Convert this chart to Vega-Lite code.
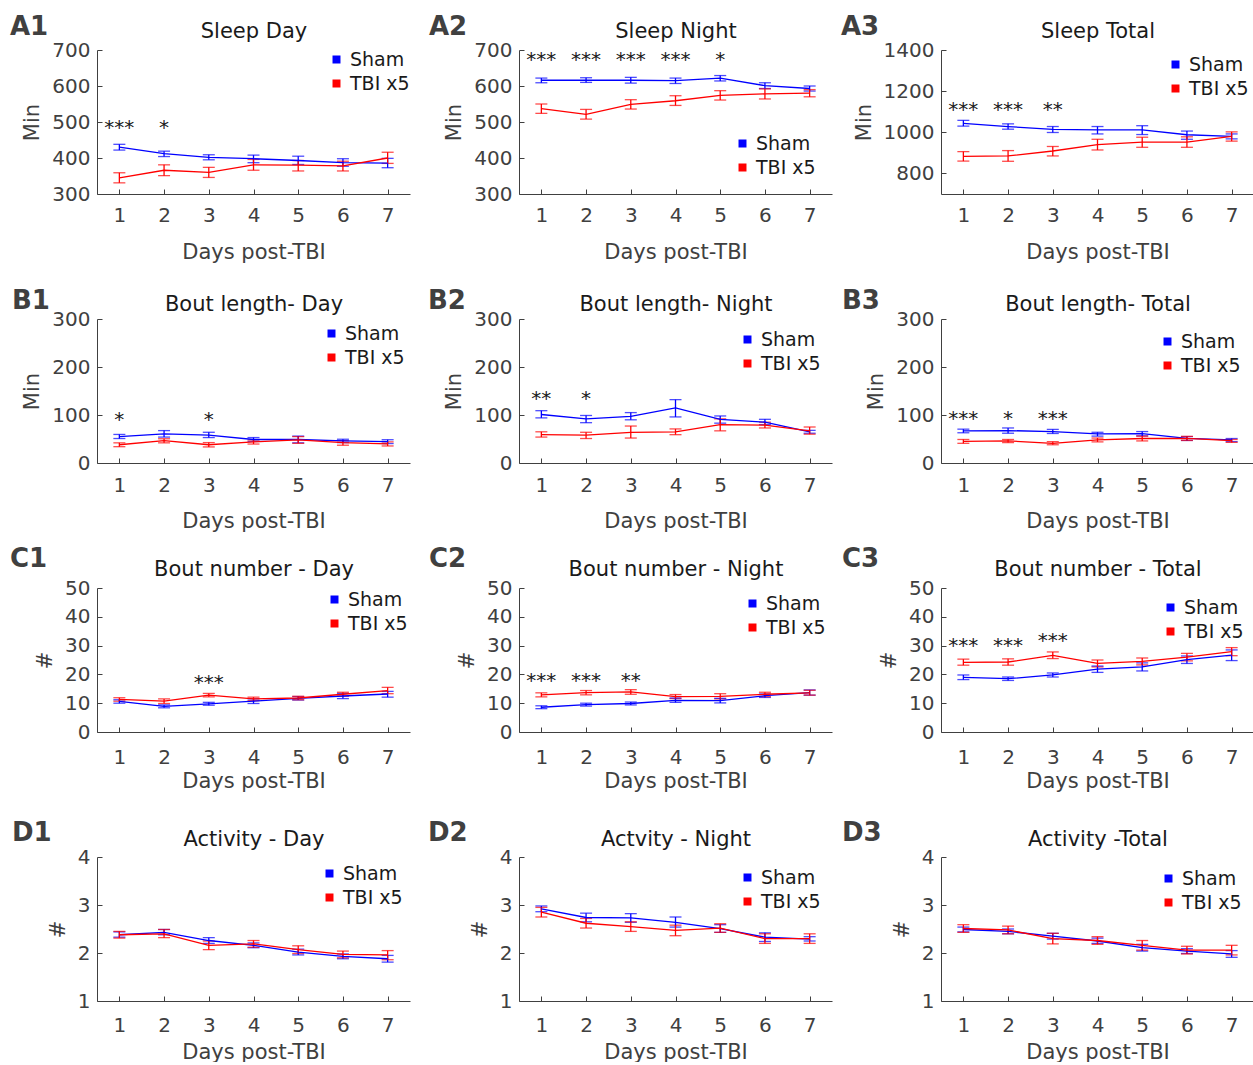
{
"$schema": "https://vega.github.io/schema/vega-lite/v6.json",
"padding": {"left": 10, "top": 14, "right": 0, "bottom": 0},
"datasets": {
"main": [
{"p":"A1","g":"Sham","d":1,"m":430,"lo":422,"hi":438},{"p":"A1","g":"Sham","d":2,"m":412,"lo":404,"hi":419},{"p":"A1","g":"Sham","d":3,"m":402,"lo":395,"hi":409},{"p":"A1","g":"Sham","d":4,"m":398,"lo":387,"hi":408},{"p":"A1","g":"Sham","d":5,"m":393,"lo":382,"hi":405},{"p":"A1","g":"Sham","d":6,"m":387,"lo":377,"hi":398},{"p":"A1","g":"Sham","d":7,"m":386,"lo":373,"hi":399},
{"p":"A1","g":"TBI x5","d":1,"m":345,"lo":331,"hi":359},{"p":"A1","g":"TBI x5","d":2,"m":366,"lo":351,"hi":381},{"p":"A1","g":"TBI x5","d":3,"m":360,"lo":346,"hi":374},{"p":"A1","g":"TBI x5","d":4,"m":381,"lo":366,"hi":396},{"p":"A1","g":"TBI x5","d":5,"m":380,"lo":364,"hi":393},{"p":"A1","g":"TBI x5","d":6,"m":378,"lo":364,"hi":391},{"p":"A1","g":"TBI x5","d":7,"m":400,"lo":385,"hi":416},
{"p":"A2","g":"Sham","d":1,"m":616,"lo":609,"hi":622},{"p":"A2","g":"Sham","d":2,"m":616,"lo":610,"hi":623},{"p":"A2","g":"Sham","d":3,"m":616,"lo":608,"hi":624},{"p":"A2","g":"Sham","d":4,"m":615,"lo":607,"hi":622},{"p":"A2","g":"Sham","d":5,"m":622,"lo":614,"hi":629},{"p":"A2","g":"Sham","d":6,"m":601,"lo":593,"hi":609},{"p":"A2","g":"Sham","d":7,"m":593,"lo":586,"hi":600},
{"p":"A2","g":"TBI x5","d":1,"m":537,"lo":524,"hi":550},{"p":"A2","g":"TBI x5","d":2,"m":521,"lo":508,"hi":535},{"p":"A2","g":"TBI x5","d":3,"m":549,"lo":536,"hi":562},{"p":"A2","g":"TBI x5","d":4,"m":559,"lo":546,"hi":573},{"p":"A2","g":"TBI x5","d":5,"m":574,"lo":561,"hi":587},{"p":"A2","g":"TBI x5","d":6,"m":578,"lo":564,"hi":592},{"p":"A2","g":"TBI x5","d":7,"m":580,"lo":570,"hi":590},
{"p":"A3","g":"Sham","d":1,"m":1043,"lo":1030,"hi":1058},{"p":"A3","g":"Sham","d":2,"m":1028,"lo":1015,"hi":1041},{"p":"A3","g":"Sham","d":3,"m":1014,"lo":999,"hi":1028},{"p":"A3","g":"Sham","d":4,"m":1012,"lo":992,"hi":1028},{"p":"A3","g":"Sham","d":5,"m":1012,"lo":989,"hi":1032},{"p":"A3","g":"Sham","d":6,"m":988,"lo":966,"hi":1006},{"p":"A3","g":"Sham","d":7,"m":980,"lo":968,"hi":992},
{"p":"A3","g":"TBI x5","d":1,"m":883,"lo":860,"hi":906},{"p":"A3","g":"TBI x5","d":2,"m":885,"lo":859,"hi":911},{"p":"A3","g":"TBI x5","d":3,"m":909,"lo":885,"hi":931},{"p":"A3","g":"TBI x5","d":4,"m":940,"lo":914,"hi":966},{"p":"A3","g":"TBI x5","d":5,"m":952,"lo":927,"hi":976},{"p":"A3","g":"TBI x5","d":6,"m":952,"lo":927,"hi":978},{"p":"A3","g":"TBI x5","d":7,"m":980,"lo":957,"hi":1002},
{"p":"B1","g":"Sham","d":1,"m":55,"lo":51,"hi":59.5},{"p":"B1","g":"Sham","d":2,"m":60.5,"lo":54,"hi":67.5},{"p":"B1","g":"Sham","d":3,"m":58,"lo":53,"hi":64},{"p":"B1","g":"Sham","d":4,"m":49,"lo":45,"hi":53},{"p":"B1","g":"Sham","d":5,"m":49,"lo":42,"hi":56},{"p":"B1","g":"Sham","d":6,"m":46,"lo":42.5,"hi":49.5},{"p":"B1","g":"Sham","d":7,"m":44.5,"lo":40.5,"hi":48.5},
{"p":"B1","g":"TBI x5","d":1,"m":38,"lo":34,"hi":42},{"p":"B1","g":"TBI x5","d":2,"m":46.5,"lo":42,"hi":50.5},{"p":"B1","g":"TBI x5","d":3,"m":38,"lo":33.5,"hi":42.5},{"p":"B1","g":"TBI x5","d":4,"m":44,"lo":39.5,"hi":48},{"p":"B1","g":"TBI x5","d":5,"m":48,"lo":41,"hi":55},{"p":"B1","g":"TBI x5","d":6,"m":42.5,"lo":37,"hi":46.5},{"p":"B1","g":"TBI x5","d":7,"m":40,"lo":35.5,"hi":44},
{"p":"B2","g":"Sham","d":1,"m":101,"lo":94,"hi":109},{"p":"B2","g":"Sham","d":2,"m":92,"lo":84,"hi":99},{"p":"B2","g":"Sham","d":3,"m":97,"lo":90,"hi":105},{"p":"B2","g":"Sham","d":4,"m":115,"lo":96,"hi":132},{"p":"B2","g":"Sham","d":5,"m":91,"lo":83,"hi":98},{"p":"B2","g":"Sham","d":6,"m":85,"lo":80,"hi":91},{"p":"B2","g":"Sham","d":7,"m":65,"lo":62,"hi":68},
{"p":"B2","g":"TBI x5","d":1,"m":59,"lo":54,"hi":65},{"p":"B2","g":"TBI x5","d":2,"m":58,"lo":51,"hi":64},{"p":"B2","g":"TBI x5","d":3,"m":64,"lo":52,"hi":77},{"p":"B2","g":"TBI x5","d":4,"m":65,"lo":59,"hi":71},{"p":"B2","g":"TBI x5","d":5,"m":80,"lo":67,"hi":92},{"p":"B2","g":"TBI x5","d":6,"m":79,"lo":73,"hi":85},{"p":"B2","g":"TBI x5","d":7,"m":67,"lo":60,"hi":75},
{"p":"B3","g":"Sham","d":1,"m":67,"lo":63,"hi":70.5},{"p":"B3","g":"Sham","d":2,"m":67.5,"lo":62,"hi":73},{"p":"B3","g":"Sham","d":3,"m":65.5,"lo":61.5,"hi":70},{"p":"B3","g":"Sham","d":4,"m":60.5,"lo":56,"hi":64},{"p":"B3","g":"Sham","d":5,"m":61,"lo":56.5,"hi":65.5},{"p":"B3","g":"Sham","d":6,"m":51.5,"lo":47,"hi":55},{"p":"B3","g":"Sham","d":7,"m":48,"lo":44.5,"hi":51},
{"p":"B3","g":"TBI x5","d":1,"m":45,"lo":41,"hi":49},{"p":"B3","g":"TBI x5","d":2,"m":46,"lo":42.5,"hi":49},{"p":"B3","g":"TBI x5","d":3,"m":41,"lo":38,"hi":44.5},{"p":"B3","g":"TBI x5","d":4,"m":48,"lo":44,"hi":52},{"p":"B3","g":"TBI x5","d":5,"m":51,"lo":46,"hi":56},{"p":"B3","g":"TBI x5","d":6,"m":51.5,"lo":47,"hi":55.5},{"p":"B3","g":"TBI x5","d":7,"m":46.5,"lo":43,"hi":49},
{"p":"C1","g":"Sham","d":1,"m":10.6,"lo":10.0,"hi":11.2},{"p":"C1","g":"Sham","d":2,"m":8.9,"lo":8.4,"hi":9.4},{"p":"C1","g":"Sham","d":3,"m":9.8,"lo":9.3,"hi":10.3},{"p":"C1","g":"Sham","d":4,"m":10.7,"lo":9.9,"hi":11.5},{"p":"C1","g":"Sham","d":5,"m":11.7,"lo":11.1,"hi":12.3},{"p":"C1","g":"Sham","d":6,"m":12.5,"lo":11.6,"hi":13.4},{"p":"C1","g":"Sham","d":7,"m":13.2,"lo":12.1,"hi":14.1},
{"p":"C1","g":"TBI x5","d":1,"m":11.3,"lo":10.7,"hi":11.9},{"p":"C1","g":"TBI x5","d":2,"m":10.7,"lo":9.9,"hi":11.5},{"p":"C1","g":"TBI x5","d":3,"m":12.8,"lo":12.2,"hi":13.4},{"p":"C1","g":"TBI x5","d":4,"m":11.5,"lo":10.9,"hi":12.1},{"p":"C1","g":"TBI x5","d":5,"m":11.8,"lo":11.2,"hi":12.4},{"p":"C1","g":"TBI x5","d":6,"m":13.1,"lo":12.4,"hi":13.8},{"p":"C1","g":"TBI x5","d":7,"m":14.4,"lo":13.3,"hi":15.5},
{"p":"C2","g":"Sham","d":1,"m":8.6,"lo":8.1,"hi":9.1},{"p":"C2","g":"Sham","d":2,"m":9.5,"lo":9.0,"hi":10.0},{"p":"C2","g":"Sham","d":3,"m":9.9,"lo":9.4,"hi":10.4},{"p":"C2","g":"Sham","d":4,"m":11.0,"lo":10.3,"hi":11.8},{"p":"C2","g":"Sham","d":5,"m":10.9,"lo":10.1,"hi":11.7},{"p":"C2","g":"Sham","d":6,"m":12.6,"lo":12.0,"hi":13.2},{"p":"C2","g":"Sham","d":7,"m":13.7,"lo":12.8,"hi":14.6},
{"p":"C2","g":"TBI x5","d":1,"m":12.9,"lo":12.2,"hi":13.6},{"p":"C2","g":"TBI x5","d":2,"m":13.7,"lo":12.9,"hi":14.4},{"p":"C2","g":"TBI x5","d":3,"m":13.9,"lo":13.1,"hi":14.7},{"p":"C2","g":"TBI x5","d":4,"m":12.3,"lo":11.6,"hi":13.0},{"p":"C2","g":"TBI x5","d":5,"m":12.4,"lo":11.5,"hi":13.3},{"p":"C2","g":"TBI x5","d":6,"m":13.1,"lo":12.3,"hi":13.8},{"p":"C2","g":"TBI x5","d":7,"m":13.6,"lo":12.8,"hi":14.5},
{"p":"C3","g":"Sham","d":1,"m":19.0,"lo":18.2,"hi":19.8},{"p":"C3","g":"Sham","d":2,"m":18.5,"lo":17.9,"hi":19.1},{"p":"C3","g":"Sham","d":3,"m":19.8,"lo":19.1,"hi":20.5},{"p":"C3","g":"Sham","d":4,"m":21.8,"lo":20.7,"hi":22.9},{"p":"C3","g":"Sham","d":5,"m":22.6,"lo":21.2,"hi":24.0},{"p":"C3","g":"Sham","d":6,"m":25.1,"lo":23.8,"hi":26.4},{"p":"C3","g":"Sham","d":7,"m":26.7,"lo":24.8,"hi":28.5},
{"p":"C3","g":"TBI x5","d":1,"m":24.2,"lo":23.2,"hi":25.3},{"p":"C3","g":"TBI x5","d":2,"m":24.3,"lo":23.2,"hi":25.4},{"p":"C3","g":"TBI x5","d":3,"m":26.6,"lo":25.5,"hi":27.8},{"p":"C3","g":"TBI x5","d":4,"m":23.8,"lo":22.6,"hi":25.0},{"p":"C3","g":"TBI x5","d":5,"m":24.5,"lo":23.3,"hi":25.7},{"p":"C3","g":"TBI x5","d":6,"m":26.0,"lo":24.7,"hi":27.3},{"p":"C3","g":"TBI x5","d":7,"m":27.9,"lo":26.5,"hi":29.3},
{"p":"D1","g":"Sham","d":1,"m":2.38,"lo":2.33,"hi":2.44},{"p":"D1","g":"Sham","d":2,"m":2.43,"lo":2.38,"hi":2.49},{"p":"D1","g":"Sham","d":3,"m":2.26,"lo":2.20,"hi":2.32},{"p":"D1","g":"Sham","d":4,"m":2.16,"lo":2.11,"hi":2.21},{"p":"D1","g":"Sham","d":5,"m":2.02,"lo":1.96,"hi":2.08},{"p":"D1","g":"Sham","d":6,"m":1.93,"lo":1.88,"hi":1.98},{"p":"D1","g":"Sham","d":7,"m":1.88,"lo":1.81,"hi":1.95},
{"p":"D1","g":"TBI x5","d":1,"m":2.38,"lo":2.31,"hi":2.45},{"p":"D1","g":"TBI x5","d":2,"m":2.40,"lo":2.32,"hi":2.49},{"p":"D1","g":"TBI x5","d":3,"m":2.16,"lo":2.07,"hi":2.25},{"p":"D1","g":"TBI x5","d":4,"m":2.19,"lo":2.12,"hi":2.26},{"p":"D1","g":"TBI x5","d":5,"m":2.07,"lo":1.99,"hi":2.15},{"p":"D1","g":"TBI x5","d":6,"m":1.97,"lo":1.90,"hi":2.04},{"p":"D1","g":"TBI x5","d":7,"m":1.96,"lo":1.86,"hi":2.05},
{"p":"D2","g":"Sham","d":1,"m":2.92,"lo":2.86,"hi":2.98},{"p":"D2","g":"Sham","d":2,"m":2.74,"lo":2.65,"hi":2.83},{"p":"D2","g":"Sham","d":3,"m":2.73,"lo":2.64,"hi":2.82},{"p":"D2","g":"Sham","d":4,"m":2.64,"lo":2.54,"hi":2.75},{"p":"D2","g":"Sham","d":5,"m":2.51,"lo":2.43,"hi":2.59},{"p":"D2","g":"Sham","d":6,"m":2.33,"lo":2.24,"hi":2.42},{"p":"D2","g":"Sham","d":7,"m":2.29,"lo":2.25,"hi":2.34},
{"p":"D2","g":"TBI x5","d":1,"m":2.85,"lo":2.75,"hi":2.95},{"p":"D2","g":"TBI x5","d":2,"m":2.62,"lo":2.52,"hi":2.72},{"p":"D2","g":"TBI x5","d":3,"m":2.55,"lo":2.45,"hi":2.65},{"p":"D2","g":"TBI x5","d":4,"m":2.47,"lo":2.36,"hi":2.58},{"p":"D2","g":"TBI x5","d":5,"m":2.52,"lo":2.43,"hi":2.61},{"p":"D2","g":"TBI x5","d":6,"m":2.30,"lo":2.20,"hi":2.40},{"p":"D2","g":"TBI x5","d":7,"m":2.30,"lo":2.20,"hi":2.40},
{"p":"D3","g":"Sham","d":1,"m":2.49,"lo":2.44,"hi":2.54},{"p":"D3","g":"Sham","d":2,"m":2.45,"lo":2.40,"hi":2.50},{"p":"D3","g":"Sham","d":3,"m":2.35,"lo":2.29,"hi":2.41},{"p":"D3","g":"Sham","d":4,"m":2.25,"lo":2.20,"hi":2.31},{"p":"D3","g":"Sham","d":5,"m":2.11,"lo":2.04,"hi":2.18},{"p":"D3","g":"Sham","d":6,"m":2.04,"lo":1.99,"hi":2.09},{"p":"D3","g":"Sham","d":7,"m":1.98,"lo":1.91,"hi":2.05},
{"p":"D3","g":"TBI x5","d":1,"m":2.51,"lo":2.43,"hi":2.59},{"p":"D3","g":"TBI x5","d":2,"m":2.48,"lo":2.40,"hi":2.56},{"p":"D3","g":"TBI x5","d":3,"m":2.30,"lo":2.19,"hi":2.41},{"p":"D3","g":"TBI x5","d":4,"m":2.26,"lo":2.18,"hi":2.34},{"p":"D3","g":"TBI x5","d":5,"m":2.16,"lo":2.06,"hi":2.26},{"p":"D3","g":"TBI x5","d":6,"m":2.06,"lo":1.98,"hi":2.14},{"p":"D3","g":"TBI x5","d":7,"m":2.06,"lo":1.96,"hi":2.16}
],
"stars": [
{"p":"A1","d":1,"s":"***","y":492},{"p":"A1","d":2,"s":"*","y":492},
{"p":"A2","d":1,"s":"***","y":681},{"p":"A2","d":2,"s":"***","y":681},{"p":"A2","d":3,"s":"***","y":681},{"p":"A2","d":4,"s":"***","y":681},{"p":"A2","d":5,"s":"*","y":681},
{"p":"A3","d":1,"s":"***","y":1124},{"p":"A3","d":2,"s":"***","y":1124},{"p":"A3","d":3,"s":"**","y":1124},
{"p":"B1","d":1,"s":"*","y":95},{"p":"B1","d":3,"s":"*","y":95},
{"p":"B2","d":1,"s":"**","y":140},{"p":"B2","d":2,"s":"*","y":140},
{"p":"B3","d":1,"s":"***","y":97},{"p":"B3","d":2,"s":"*","y":97},{"p":"B3","d":3,"s":"***","y":97},
{"p":"C1","d":3,"s":"***","y":18},
{"p":"C2","d":1,"s":"***","y":18.6},{"p":"C2","d":2,"s":"***","y":18.6},{"p":"C2","d":3,"s":"**","y":18.6},
{"p":"C3","d":1,"s":"***","y":30.9},{"p":"C3","d":2,"s":"***","y":30.9},{"p":"C3","d":3,"s":"***","y":32.8}
]
},
"columns": 3,
"spacing": {"row": 125, "column": 109},
"bounds": "flush",
"resolve": {"scale": {"color": "independent"}, "legend": {"color": "independent"}},
"concat": [
{"width":313,"height":144,"title":{"text":"A1","dx":-87,"offset":-20},"data":{"name":"main"},"transform":[{"filter":"datum.p=='A1'"}],"resolve":{"axis":{"x":"independent"}},
 "layer":[
  {"mark":{"type":"errorbar","ticks":true,"size":12,"thickness":1.3,"orient":"vertical"},"encoding":{"x":{"field":"d","type":"quantitative","scale":{"domain":[0.5,7.5],"nice":false,"zero":false},"axis":{"values":[1,2,3,4,5,6,7],"title":"Days post-TBI","labelPadding":16,"titlePadding":16.5}},"y":{"field":"lo","type":"quantitative","scale":{"domain":[300,700],"nice":false,"zero":false},"axis":{"values":[300,400,500,600,700],"title":"Min","format":"d"}},"y2":{"field":"hi"},"color":{"field":"g","type":"nominal","scale":{"domain":["Sham","TBI x5"],"range":["#0000ff","#ff0000"]}}}},
  {"mark":{"type":"line","strokeWidth":1.3},"encoding":{"x":{"field":"d","type":"quantitative","scale":{"domain":[0.5,7.5],"nice":false,"zero":false},"axis":null},"y":{"field":"m","type":"quantitative","scale":{"domain":[300,700],"nice":false,"zero":false},"axis":{"values":[300,400,500,600,700],"title":"Min","format":"d"}},"color":{"field":"g","type":"nominal","scale":{"domain":["Sham","TBI x5"],"range":["#0000ff","#ff0000"]},"legend":{"orient":"top-right","offset":0,"title":null}}}},
  {"mark":{"type":"square","size":0,"opacity":1,"filled":true},"encoding":{"x":{"field":"d","type":"quantitative","scale":{"domain":[0.5,7.5],"nice":false,"zero":false},"axis":{"orient":"top","title":"Sleep Day","titlePadding":9}},"y":{"field":"m","type":"quantitative","scale":{"domain":[300,700],"nice":false,"zero":false},"axis":{"values":[300,400,500,600,700],"title":"Min","format":"d"}}}},
  {"data":{"name":"stars"},"transform":[{"filter":"datum.p=='A1'"}],"mark":{"type":"text","fontSize":20,"dy":9,"baseline":"alphabetic","color":"#1a1a1a"},"encoding":{"x":{"field":"d","type":"quantitative","scale":{"domain":[0.5,7.5],"nice":false,"zero":false},"axis":null},"y":{"field":"y","type":"quantitative","scale":{"domain":[300,700],"nice":false,"zero":false},"axis":{"values":[300,400,500,600,700],"title":"Min","format":"d"}},"text":{"field":"s"}}}
 ]},
{"width":313,"height":144,"title":{"text":"A2","dx":-90,"offset":-20},"data":{"name":"main"},"transform":[{"filter":"datum.p=='A2'"}],"resolve":{"axis":{"x":"independent"}},
 "layer":[
  {"mark":{"type":"errorbar","ticks":true,"size":12,"thickness":1.3,"orient":"vertical"},"encoding":{"x":{"field":"d","type":"quantitative","scale":{"domain":[0.5,7.5],"nice":false,"zero":false},"axis":{"values":[1,2,3,4,5,6,7],"title":"Days post-TBI","labelPadding":16,"titlePadding":16.5}},"y":{"field":"lo","type":"quantitative","scale":{"domain":[300,700],"nice":false,"zero":false},"axis":{"values":[300,400,500,600,700],"title":"Min","format":"d"}},"y2":{"field":"hi"},"color":{"field":"g","type":"nominal","scale":{"domain":["Sham","TBI x5"],"range":["#0000ff","#ff0000"]}}}},
  {"mark":{"type":"line","strokeWidth":1.3},"encoding":{"x":{"field":"d","type":"quantitative","scale":{"domain":[0.5,7.5],"nice":false,"zero":false},"axis":null},"y":{"field":"m","type":"quantitative","scale":{"domain":[300,700],"nice":false,"zero":false},"axis":{"values":[300,400,500,600,700],"title":"Min","format":"d"}},"color":{"field":"g","type":"nominal","scale":{"domain":["Sham","TBI x5"],"range":["#0000ff","#ff0000"]},"legend":{"orient":"bottom-right","offset":16,"title":null}}}},
  {"mark":{"type":"square","size":0,"opacity":1,"filled":true},"encoding":{"x":{"field":"d","type":"quantitative","scale":{"domain":[0.5,7.5],"nice":false,"zero":false},"axis":{"orient":"top","title":"Sleep Night","titlePadding":9}},"y":{"field":"m","type":"quantitative","scale":{"domain":[300,700],"nice":false,"zero":false},"axis":{"values":[300,400,500,600,700],"title":"Min","format":"d"}}}},
  {"data":{"name":"stars"},"transform":[{"filter":"datum.p=='A2'"}],"mark":{"type":"text","fontSize":20,"dy":9,"baseline":"alphabetic","color":"#1a1a1a"},"encoding":{"x":{"field":"d","type":"quantitative","scale":{"domain":[0.5,7.5],"nice":false,"zero":false},"axis":null},"y":{"field":"y","type":"quantitative","scale":{"domain":[300,700],"nice":false,"zero":false},"axis":{"values":[300,400,500,600,700],"title":"Min","format":"d"}},"text":{"field":"s"}}}
 ]},
{"width":313,"height":144,"title":{"text":"A3","dx":-100,"offset":-20},"data":{"name":"main"},"transform":[{"filter":"datum.p=='A3'"}],"resolve":{"axis":{"x":"independent"}},
 "layer":[
  {"mark":{"type":"errorbar","ticks":true,"size":12,"thickness":1.3,"orient":"vertical"},"encoding":{"x":{"field":"d","type":"quantitative","scale":{"domain":[0.5,7.5],"nice":false,"zero":false},"axis":{"values":[1,2,3,4,5,6,7],"title":"Days post-TBI","labelPadding":16,"titlePadding":16.5}},"y":{"field":"lo","type":"quantitative","scale":{"domain":[700,1400],"nice":false,"zero":false},"axis":{"values":[800,1000,1200,1400],"title":"Min","format":"d"}},"y2":{"field":"hi"},"color":{"field":"g","type":"nominal","scale":{"domain":["Sham","TBI x5"],"range":["#0000ff","#ff0000"]}}}},
  {"mark":{"type":"line","strokeWidth":1.3},"encoding":{"x":{"field":"d","type":"quantitative","scale":{"domain":[0.5,7.5],"nice":false,"zero":false},"axis":null},"y":{"field":"m","type":"quantitative","scale":{"domain":[700,1400],"nice":false,"zero":false},"axis":{"values":[800,1000,1200,1400],"title":"Min","format":"d"}},"color":{"field":"g","type":"nominal","scale":{"domain":["Sham","TBI x5"],"range":["#0000ff","#ff0000"]},"legend":{"orient":"top-right","offset":5,"title":null}}}},
  {"mark":{"type":"square","size":0,"opacity":1,"filled":true},"encoding":{"x":{"field":"d","type":"quantitative","scale":{"domain":[0.5,7.5],"nice":false,"zero":false},"axis":{"orient":"top","title":"Sleep Total","titlePadding":9}},"y":{"field":"m","type":"quantitative","scale":{"domain":[700,1400],"nice":false,"zero":false},"axis":{"values":[800,1000,1200,1400],"title":"Min","format":"d"}}}},
  {"data":{"name":"stars"},"transform":[{"filter":"datum.p=='A3'"}],"mark":{"type":"text","fontSize":20,"dy":9,"baseline":"alphabetic","color":"#1a1a1a"},"encoding":{"x":{"field":"d","type":"quantitative","scale":{"domain":[0.5,7.5],"nice":false,"zero":false},"axis":null},"y":{"field":"y","type":"quantitative","scale":{"domain":[700,1400],"nice":false,"zero":false},"axis":{"values":[800,1000,1200,1400],"title":"Min","format":"d"}},"text":{"field":"s"}}}
 ]},
{"width":313,"height":144,"title":{"text":"B1","dx":-85,"offset":-21},"data":{"name":"main"},"transform":[{"filter":"datum.p=='B1'"}],"resolve":{"axis":{"x":"independent"}},
 "layer":[
  {"mark":{"type":"errorbar","ticks":true,"size":12,"thickness":1.3,"orient":"vertical"},"encoding":{"x":{"field":"d","type":"quantitative","scale":{"domain":[0.5,7.5],"nice":false,"zero":false},"axis":{"values":[1,2,3,4,5,6,7],"title":"Days post-TBI","labelPadding":17,"titlePadding":15}},"y":{"field":"lo","type":"quantitative","scale":{"domain":[0,300],"nice":false,"zero":false},"axis":{"values":[0,100,200,300],"title":"Min","format":"d"}},"y2":{"field":"hi"},"color":{"field":"g","type":"nominal","scale":{"domain":["Sham","TBI x5"],"range":["#0000ff","#ff0000"]}}}},
  {"mark":{"type":"line","strokeWidth":1.3},"encoding":{"x":{"field":"d","type":"quantitative","scale":{"domain":[0.5,7.5],"nice":false,"zero":false},"axis":null},"y":{"field":"m","type":"quantitative","scale":{"domain":[0,300],"nice":false,"zero":false},"axis":{"values":[0,100,200,300],"title":"Min","format":"d"}},"color":{"field":"g","type":"nominal","scale":{"domain":["Sham","TBI x5"],"range":["#0000ff","#ff0000"]},"legend":{"orient":"top-right","offset":5,"title":null}}}},
  {"mark":{"type":"square","size":0,"opacity":1,"filled":true},"encoding":{"x":{"field":"d","type":"quantitative","scale":{"domain":[0.5,7.5],"nice":false,"zero":false},"axis":{"orient":"top","title":"Bout length- Day","titlePadding":5}},"y":{"field":"m","type":"quantitative","scale":{"domain":[0,300],"nice":false,"zero":false},"axis":{"values":[0,100,200,300],"title":"Min","format":"d"}}}},
  {"data":{"name":"stars"},"transform":[{"filter":"datum.p=='B1'"}],"mark":{"type":"text","fontSize":20,"dy":9,"baseline":"alphabetic","color":"#1a1a1a"},"encoding":{"x":{"field":"d","type":"quantitative","scale":{"domain":[0.5,7.5],"nice":false,"zero":false},"axis":null},"y":{"field":"y","type":"quantitative","scale":{"domain":[0,300],"nice":false,"zero":false},"axis":{"values":[0,100,200,300],"title":"Min","format":"d"}},"text":{"field":"s"}}}
 ]},
{"width":313,"height":144,"title":{"text":"B2","dx":-91,"offset":-21},"data":{"name":"main"},"transform":[{"filter":"datum.p=='B2'"}],"resolve":{"axis":{"x":"independent"}},
 "layer":[
  {"mark":{"type":"errorbar","ticks":true,"size":12,"thickness":1.3,"orient":"vertical"},"encoding":{"x":{"field":"d","type":"quantitative","scale":{"domain":[0.5,7.5],"nice":false,"zero":false},"axis":{"values":[1,2,3,4,5,6,7],"title":"Days post-TBI","labelPadding":17,"titlePadding":15}},"y":{"field":"lo","type":"quantitative","scale":{"domain":[0,300],"nice":false,"zero":false},"axis":{"values":[0,100,200,300],"title":"Min","format":"d"}},"y2":{"field":"hi"},"color":{"field":"g","type":"nominal","scale":{"domain":["Sham","TBI x5"],"range":["#0000ff","#ff0000"]}}}},
  {"mark":{"type":"line","strokeWidth":1.3},"encoding":{"x":{"field":"d","type":"quantitative","scale":{"domain":[0.5,7.5],"nice":false,"zero":false},"axis":null},"y":{"field":"m","type":"quantitative","scale":{"domain":[0,300],"nice":false,"zero":false},"axis":{"values":[0,100,200,300],"title":"Min","format":"d"}},"color":{"field":"g","type":"nominal","scale":{"domain":["Sham","TBI x5"],"range":["#0000ff","#ff0000"]},"legend":{"orient":"top-right","offset":11,"title":null}}}},
  {"mark":{"type":"square","size":0,"opacity":1,"filled":true},"encoding":{"x":{"field":"d","type":"quantitative","scale":{"domain":[0.5,7.5],"nice":false,"zero":false},"axis":{"orient":"top","title":"Bout length- Night","titlePadding":5}},"y":{"field":"m","type":"quantitative","scale":{"domain":[0,300],"nice":false,"zero":false},"axis":{"values":[0,100,200,300],"title":"Min","format":"d"}}}},
  {"data":{"name":"stars"},"transform":[{"filter":"datum.p=='B2'"}],"mark":{"type":"text","fontSize":20,"dy":9,"baseline":"alphabetic","color":"#1a1a1a"},"encoding":{"x":{"field":"d","type":"quantitative","scale":{"domain":[0.5,7.5],"nice":false,"zero":false},"axis":null},"y":{"field":"y","type":"quantitative","scale":{"domain":[0,300],"nice":false,"zero":false},"axis":{"values":[0,100,200,300],"title":"Min","format":"d"}},"text":{"field":"s"}}}
 ]},
{"width":313,"height":144,"title":{"text":"B3","dx":-99,"offset":-21},"data":{"name":"main"},"transform":[{"filter":"datum.p=='B3'"}],"resolve":{"axis":{"x":"independent"}},
 "layer":[
  {"mark":{"type":"errorbar","ticks":true,"size":12,"thickness":1.3,"orient":"vertical"},"encoding":{"x":{"field":"d","type":"quantitative","scale":{"domain":[0.5,7.5],"nice":false,"zero":false},"axis":{"values":[1,2,3,4,5,6,7],"title":"Days post-TBI","labelPadding":17,"titlePadding":15}},"y":{"field":"lo","type":"quantitative","scale":{"domain":[0,300],"nice":false,"zero":false},"axis":{"values":[0,100,200,300],"title":"Min","format":"d"}},"y2":{"field":"hi"},"color":{"field":"g","type":"nominal","scale":{"domain":["Sham","TBI x5"],"range":["#0000ff","#ff0000"]}}}},
  {"mark":{"type":"line","strokeWidth":1.3},"encoding":{"x":{"field":"d","type":"quantitative","scale":{"domain":[0.5,7.5],"nice":false,"zero":false},"axis":null},"y":{"field":"m","type":"quantitative","scale":{"domain":[0,300],"nice":false,"zero":false},"axis":{"values":[0,100,200,300],"title":"Min","format":"d"}},"color":{"field":"g","type":"nominal","scale":{"domain":["Sham","TBI x5"],"range":["#0000ff","#ff0000"]},"legend":{"orient":"top-right","offset":13,"title":null}}}},
  {"mark":{"type":"square","size":0,"opacity":1,"filled":true},"encoding":{"x":{"field":"d","type":"quantitative","scale":{"domain":[0.5,7.5],"nice":false,"zero":false},"axis":{"orient":"top","title":"Bout length- Total","titlePadding":5}},"y":{"field":"m","type":"quantitative","scale":{"domain":[0,300],"nice":false,"zero":false},"axis":{"values":[0,100,200,300],"title":"Min","format":"d"}}}},
  {"data":{"name":"stars"},"transform":[{"filter":"datum.p=='B3'"}],"mark":{"type":"text","fontSize":20,"dy":9,"baseline":"alphabetic","color":"#1a1a1a"},"encoding":{"x":{"field":"d","type":"quantitative","scale":{"domain":[0.5,7.5],"nice":false,"zero":false},"axis":null},"y":{"field":"y","type":"quantitative","scale":{"domain":[0,300],"nice":false,"zero":false},"axis":{"values":[0,100,200,300],"title":"Min","format":"d"}},"text":{"field":"s"}}}
 ]},
{"width":313,"height":144,"title":{"text":"C1","dx":-87,"offset":-14},"data":{"name":"main"},"transform":[{"filter":"datum.p=='C1'"}],"resolve":{"axis":{"x":"independent"}},
 "layer":[
  {"mark":{"type":"errorbar","ticks":true,"size":12,"thickness":1.3,"orient":"vertical"},"encoding":{"x":{"field":"d","type":"quantitative","scale":{"domain":[0.5,7.5],"nice":false,"zero":false},"axis":{"values":[1,2,3,4,5,6,7],"title":"Days post-TBI","labelPadding":20.5,"titlePadding":2.5}},"y":{"field":"lo","type":"quantitative","scale":{"domain":[0,50],"nice":false,"zero":false},"axis":{"values":[0,10,20,30,40,50],"title":"#","format":"d"}},"y2":{"field":"hi"},"color":{"field":"g","type":"nominal","scale":{"domain":["Sham","TBI x5"],"range":["#0000ff","#ff0000"]}}}},
  {"mark":{"type":"line","strokeWidth":1.3},"encoding":{"x":{"field":"d","type":"quantitative","scale":{"domain":[0.5,7.5],"nice":false,"zero":false},"axis":null},"y":{"field":"m","type":"quantitative","scale":{"domain":[0,50],"nice":false,"zero":false},"axis":{"values":[0,10,20,30,40,50],"title":"#","format":"d"}},"color":{"field":"g","type":"nominal","scale":{"domain":["Sham","TBI x5"],"range":["#0000ff","#ff0000"]},"legend":{"orient":"top-right","offset":2,"title":null}}}},
  {"mark":{"type":"square","size":0,"opacity":1,"filled":true},"encoding":{"x":{"field":"d","type":"quantitative","scale":{"domain":[0.5,7.5],"nice":false,"zero":false},"axis":{"orient":"top","title":"Bout number - Day","titlePadding":9}},"y":{"field":"m","type":"quantitative","scale":{"domain":[0,50],"nice":false,"zero":false},"axis":{"values":[0,10,20,30,40,50],"title":"#","format":"d"}}}},
  {"data":{"name":"stars"},"transform":[{"filter":"datum.p=='C1'"}],"mark":{"type":"text","fontSize":20,"dy":9,"baseline":"alphabetic","color":"#1a1a1a"},"encoding":{"x":{"field":"d","type":"quantitative","scale":{"domain":[0.5,7.5],"nice":false,"zero":false},"axis":null},"y":{"field":"y","type":"quantitative","scale":{"domain":[0,50],"nice":false,"zero":false},"axis":{"values":[0,10,20,30,40,50],"title":"#","format":"d"}},"text":{"field":"s"}}}
 ]},
{"width":313,"height":144,"title":{"text":"C2","dx":-90,"offset":-14},"data":{"name":"main"},"transform":[{"filter":"datum.p=='C2'"}],"resolve":{"axis":{"x":"independent"}},
 "layer":[
  {"mark":{"type":"errorbar","ticks":true,"size":12,"thickness":1.3,"orient":"vertical"},"encoding":{"x":{"field":"d","type":"quantitative","scale":{"domain":[0.5,7.5],"nice":false,"zero":false},"axis":{"values":[1,2,3,4,5,6,7],"title":"Days post-TBI","labelPadding":20.5,"titlePadding":2.5}},"y":{"field":"lo","type":"quantitative","scale":{"domain":[0,50],"nice":false,"zero":false},"axis":{"values":[0,10,20,30,40,50],"title":"#","format":"d"}},"y2":{"field":"hi"},"color":{"field":"g","type":"nominal","scale":{"domain":["Sham","TBI x5"],"range":["#0000ff","#ff0000"]}}}},
  {"mark":{"type":"line","strokeWidth":1.3},"encoding":{"x":{"field":"d","type":"quantitative","scale":{"domain":[0.5,7.5],"nice":false,"zero":false},"axis":null},"y":{"field":"m","type":"quantitative","scale":{"domain":[0,50],"nice":false,"zero":false},"axis":{"values":[0,10,20,30,40,50],"title":"#","format":"d"}},"color":{"field":"g","type":"nominal","scale":{"domain":["Sham","TBI x5"],"range":["#0000ff","#ff0000"]},"legend":{"orient":"top-right","offset":6,"title":null}}}},
  {"mark":{"type":"square","size":0,"opacity":1,"filled":true},"encoding":{"x":{"field":"d","type":"quantitative","scale":{"domain":[0.5,7.5],"nice":false,"zero":false},"axis":{"orient":"top","title":"Bout number - Night","titlePadding":9}},"y":{"field":"m","type":"quantitative","scale":{"domain":[0,50],"nice":false,"zero":false},"axis":{"values":[0,10,20,30,40,50],"title":"#","format":"d"}}}},
  {"data":{"name":"stars"},"transform":[{"filter":"datum.p=='C2'"}],"mark":{"type":"text","fontSize":20,"dy":9,"baseline":"alphabetic","color":"#1a1a1a"},"encoding":{"x":{"field":"d","type":"quantitative","scale":{"domain":[0.5,7.5],"nice":false,"zero":false},"axis":null},"y":{"field":"y","type":"quantitative","scale":{"domain":[0,50],"nice":false,"zero":false},"axis":{"values":[0,10,20,30,40,50],"title":"#","format":"d"}},"text":{"field":"s"}}}
 ]},
{"width":313,"height":144,"title":{"text":"C3","dx":-99,"offset":-14},"data":{"name":"main"},"transform":[{"filter":"datum.p=='C3'"}],"resolve":{"axis":{"x":"independent"}},
 "layer":[
  {"mark":{"type":"errorbar","ticks":true,"size":12,"thickness":1.3,"orient":"vertical"},"encoding":{"x":{"field":"d","type":"quantitative","scale":{"domain":[0.5,7.5],"nice":false,"zero":false},"axis":{"values":[1,2,3,4,5,6,7],"title":"Days post-TBI","labelPadding":20.5,"titlePadding":2.5}},"y":{"field":"lo","type":"quantitative","scale":{"domain":[0,50],"nice":false,"zero":false},"axis":{"values":[0,10,20,30,40,50],"title":"#","format":"d"}},"y2":{"field":"hi"},"color":{"field":"g","type":"nominal","scale":{"domain":["Sham","TBI x5"],"range":["#0000ff","#ff0000"]}}}},
  {"mark":{"type":"line","strokeWidth":1.3},"encoding":{"x":{"field":"d","type":"quantitative","scale":{"domain":[0.5,7.5],"nice":false,"zero":false},"axis":null},"y":{"field":"m","type":"quantitative","scale":{"domain":[0,50],"nice":false,"zero":false},"axis":{"values":[0,10,20,30,40,50],"title":"#","format":"d"}},"color":{"field":"g","type":"nominal","scale":{"domain":["Sham","TBI x5"],"range":["#0000ff","#ff0000"]},"legend":{"orient":"top-right","offset":10,"title":null}}}},
  {"mark":{"type":"square","size":0,"opacity":1,"filled":true},"encoding":{"x":{"field":"d","type":"quantitative","scale":{"domain":[0.5,7.5],"nice":false,"zero":false},"axis":{"orient":"top","title":"Bout number - Total","titlePadding":9}},"y":{"field":"m","type":"quantitative","scale":{"domain":[0,50],"nice":false,"zero":false},"axis":{"values":[0,10,20,30,40,50],"title":"#","format":"d"}}}},
  {"data":{"name":"stars"},"transform":[{"filter":"datum.p=='C3'"}],"mark":{"type":"text","fontSize":20,"dy":9,"baseline":"alphabetic","color":"#1a1a1a"},"encoding":{"x":{"field":"d","type":"quantitative","scale":{"domain":[0.5,7.5],"nice":false,"zero":false},"axis":null},"y":{"field":"y","type":"quantitative","scale":{"domain":[0,50],"nice":false,"zero":false},"axis":{"values":[0,10,20,30,40,50],"title":"#","format":"d"}},"text":{"field":"s"}}}
 ]},
{"width":313,"height":144,"title":{"text":"D1","dx":-85,"offset":-18},"data":{"name":"main"},"transform":[{"filter":"datum.p=='D1'"}],"resolve":{"axis":{"x":"independent"}},
 "layer":[
  {"mark":{"type":"errorbar","ticks":true,"size":12,"thickness":1.3,"orient":"vertical"},"encoding":{"x":{"field":"d","type":"quantitative","scale":{"domain":[0.5,7.5],"nice":false,"zero":false},"axis":{"values":[1,2,3,4,5,6,7],"title":"Days post-TBI","labelPadding":19,"titlePadding":6}},"y":{"field":"lo","type":"quantitative","scale":{"domain":[1,4],"nice":false,"zero":false},"axis":{"values":[1,2,3,4],"title":"#","format":"d"}},"y2":{"field":"hi"},"color":{"field":"g","type":"nominal","scale":{"domain":["Sham","TBI x5"],"range":["#0000ff","#ff0000"]}}}},
  {"mark":{"type":"line","strokeWidth":1.3},"encoding":{"x":{"field":"d","type":"quantitative","scale":{"domain":[0.5,7.5],"nice":false,"zero":false},"axis":null},"y":{"field":"m","type":"quantitative","scale":{"domain":[1,4],"nice":false,"zero":false},"axis":{"values":[1,2,3,4],"title":"#","format":"d"}},"color":{"field":"g","type":"nominal","scale":{"domain":["Sham","TBI x5"],"range":["#0000ff","#ff0000"]},"legend":{"orient":"top-right","offset":7,"title":null}}}},
  {"mark":{"type":"square","size":0,"opacity":1,"filled":true},"encoding":{"x":{"field":"d","type":"quantitative","scale":{"domain":[0.5,7.5],"nice":false,"zero":false},"axis":{"orient":"top","title":"Activity - Day","titlePadding":8}},"y":{"field":"m","type":"quantitative","scale":{"domain":[1,4],"nice":false,"zero":false},"axis":{"values":[1,2,3,4],"title":"#","format":"d"}}}}
 ]},
{"width":313,"height":144,"title":{"text":"D2","dx":-91,"offset":-18},"data":{"name":"main"},"transform":[{"filter":"datum.p=='D2'"}],"resolve":{"axis":{"x":"independent"}},
 "layer":[
  {"mark":{"type":"errorbar","ticks":true,"size":12,"thickness":1.3,"orient":"vertical"},"encoding":{"x":{"field":"d","type":"quantitative","scale":{"domain":[0.5,7.5],"nice":false,"zero":false},"axis":{"values":[1,2,3,4,5,6,7],"title":"Days post-TBI","labelPadding":19,"titlePadding":6}},"y":{"field":"lo","type":"quantitative","scale":{"domain":[1,4],"nice":false,"zero":false},"axis":{"values":[1,2,3,4],"title":"#","format":"d"}},"y2":{"field":"hi"},"color":{"field":"g","type":"nominal","scale":{"domain":["Sham","TBI x5"],"range":["#0000ff","#ff0000"]}}}},
  {"mark":{"type":"line","strokeWidth":1.3},"encoding":{"x":{"field":"d","type":"quantitative","scale":{"domain":[0.5,7.5],"nice":false,"zero":false},"axis":null},"y":{"field":"m","type":"quantitative","scale":{"domain":[1,4],"nice":false,"zero":false},"axis":{"values":[1,2,3,4],"title":"#","format":"d"}},"color":{"field":"g","type":"nominal","scale":{"domain":["Sham","TBI x5"],"range":["#0000ff","#ff0000"]},"legend":{"orient":"top-right","offset":11,"title":null}}}},
  {"mark":{"type":"square","size":0,"opacity":1,"filled":true},"encoding":{"x":{"field":"d","type":"quantitative","scale":{"domain":[0.5,7.5],"nice":false,"zero":false},"axis":{"orient":"top","title":"Actvity - Night","titlePadding":8}},"y":{"field":"m","type":"quantitative","scale":{"domain":[1,4],"nice":false,"zero":false},"axis":{"values":[1,2,3,4],"title":"#","format":"d"}}}}
 ]},
{"width":313,"height":144,"title":{"text":"D3","dx":-99,"offset":-18},"data":{"name":"main"},"transform":[{"filter":"datum.p=='D3'"}],"resolve":{"axis":{"x":"independent"}},
 "layer":[
  {"mark":{"type":"errorbar","ticks":true,"size":12,"thickness":1.3,"orient":"vertical"},"encoding":{"x":{"field":"d","type":"quantitative","scale":{"domain":[0.5,7.5],"nice":false,"zero":false},"axis":{"values":[1,2,3,4,5,6,7],"title":"Days post-TBI","labelPadding":19,"titlePadding":6}},"y":{"field":"lo","type":"quantitative","scale":{"domain":[1,4],"nice":false,"zero":false},"axis":{"values":[1,2,3,4],"title":"#","format":"d"}},"y2":{"field":"hi"},"color":{"field":"g","type":"nominal","scale":{"domain":["Sham","TBI x5"],"range":["#0000ff","#ff0000"]}}}},
  {"mark":{"type":"line","strokeWidth":1.3},"encoding":{"x":{"field":"d","type":"quantitative","scale":{"domain":[0.5,7.5],"nice":false,"zero":false},"axis":null},"y":{"field":"m","type":"quantitative","scale":{"domain":[1,4],"nice":false,"zero":false},"axis":{"values":[1,2,3,4],"title":"#","format":"d"}},"color":{"field":"g","type":"nominal","scale":{"domain":["Sham","TBI x5"],"range":["#0000ff","#ff0000"]},"legend":{"orient":"top-right","offset":12,"title":null}}}},
  {"mark":{"type":"square","size":0,"opacity":1,"filled":true},"encoding":{"x":{"field":"d","type":"quantitative","scale":{"domain":[0.5,7.5],"nice":false,"zero":false},"axis":{"orient":"top","title":"Activity -Total","titlePadding":8}},"y":{"field":"m","type":"quantitative","scale":{"domain":[1,4],"nice":false,"zero":false},"axis":{"values":[1,2,3,4],"title":"#","format":"d"}}}}
 ]}
],
"config": {
 "font": "DejaVu Sans",
 "view": {"stroke": null},
 "axis": {"grid": false, "labelFont": "DejaVu Sans", "labelFontSize": 20, "labelColor": "#404040", "titleFont": "DejaVu Sans", "titleFontSize": 21, "titleFontWeight": "normal", "titleColor": "#404040", "domainColor": "#404040", "domainWidth": 1, "tickColor": "#404040", "tickSize": -5, "labelOverlap": false, "labelFlush": false},
 "axisY": {"labelPadding": 12, "titlePadding": 9},
 "axisTop": {"labels": false, "ticks": false, "domain": false, "titleColor": "#1a1a1a", "titleFontSize": 21},
 "title": {"font": "DejaVu Sans", "fontSize": 26, "fontWeight": "bold", "color": "#404040", "anchor": "start", "frame": "group", "baseline": "alphabetic"},
 "legend": {"labelFont": "DejaVu Sans", "labelFontSize": 19, "labelColor": "#1a1a1a", "symbolType": "square", "symbolSize": 20, "padding": 0, "rowPadding": 4, "labelOffset": 4, "symbolStrokeWidth": 3.5, "symbolOpacity": 1}
}
}
